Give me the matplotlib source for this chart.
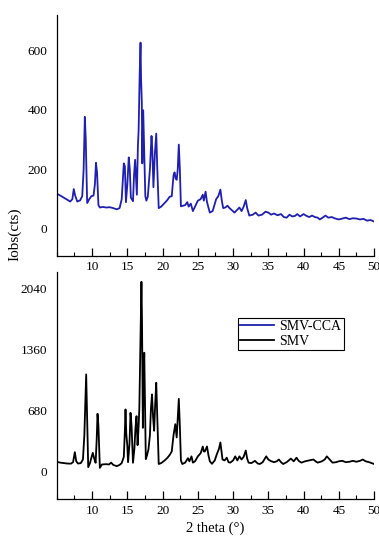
import matplotlib
matplotlib.use('Agg')
import matplotlib.pyplot as plt
from matplotlib.ticker import MultipleLocator

plt.rcParams['font.family'] = ['Liberation Serif', 'DejaVu Serif']

# SMV-CCA pattern (top panel)
cca_theta = [5.0, 5.5, 6.0, 6.5, 6.9, 7.2, 7.4, 7.6, 7.9, 8.3, 8.6, 8.8, 8.97, 9.1, 9.3,
             9.6, 9.9, 10.2, 10.4, 10.55, 10.7, 10.9, 11.1, 11.5, 12.0, 12.5, 13.0, 13.5,
             13.9, 14.2, 14.5, 14.65, 14.8, 15.0, 15.2, 15.35, 15.5, 15.8, 15.95, 16.1,
             16.25, 16.35, 16.5, 16.6, 16.75, 16.87, 16.95, 17.05, 17.12, 17.25, 17.35,
             17.55, 17.7, 17.9, 18.2, 18.43, 18.55, 18.7, 18.9, 19.1, 19.25, 19.45, 19.8,
             20.2, 20.6, 21.0, 21.3, 21.55, 21.7, 21.85, 22.0, 22.15, 22.3, 22.45, 22.6,
             22.9, 23.2, 23.5, 23.7, 24.0, 24.3, 24.6, 25.0, 25.4, 25.7, 25.85, 26.1, 26.3,
             26.7, 27.1, 27.6, 27.9, 28.2, 28.4, 28.6, 28.9, 29.2, 29.5, 30.2, 30.6, 30.9,
             31.2, 31.5, 31.8, 32.0, 32.3, 32.8, 33.2, 33.6, 34.1, 34.6, 35.0, 35.4, 35.8,
             36.3, 36.8, 37.2, 37.6, 38.0, 38.4, 38.8, 39.1, 39.5, 40.0, 40.4, 40.8, 41.2,
             41.6, 42.0, 42.3, 42.7, 43.1, 43.5, 44.0, 44.5, 45.0, 45.5, 46.0, 46.5, 47.0,
             47.5, 48.0, 48.5, 49.0, 49.5, 50.0]
cca_counts = [118, 112, 105, 98, 92, 100, 134, 112, 92, 96, 110, 200, 376, 300, 87,
              100, 110, 112, 150, 222, 190, 80, 72, 74, 72, 73, 70, 66,
              70, 100, 220, 210, 90, 150, 240, 200, 105, 93, 180, 232,
              160, 115, 280, 330, 520, 625, 500, 427, 220, 398, 300,
              110, 95, 108, 200, 312, 260, 140, 250, 320, 200, 70, 75,
              85, 95, 108, 110, 180, 190, 170, 165, 200, 283, 200, 76,
              78, 80, 90, 75, 85, 60, 75, 95, 100, 115, 95, 125, 90,
              55, 60, 100, 110, 132, 95, 70, 72, 78, 70, 55, 65, 72,
              60, 75, 97, 70, 45, 48, 55, 45, 48, 58, 55, 48, 52,
              46, 50, 40, 38, 48, 42, 44, 50, 42, 50, 44, 40, 45,
              40, 38, 32, 38, 45, 38, 40, 35, 32, 35, 38, 33, 36,
              35, 32, 34, 28, 30, 25]

# SMV pattern (bottom panel)
smv_theta = [5.0, 5.5, 6.0, 6.5, 7.0, 7.3, 7.55, 7.75, 8.0, 8.4, 8.7, 8.9, 9.05, 9.16,
             9.3, 9.45, 9.7, 9.9, 10.1, 10.3, 10.5, 10.65, 10.77, 10.9, 11.1, 11.4, 12.0,
             12.4, 12.7, 13.0, 13.5, 13.9, 14.2, 14.5, 14.65, 14.74, 14.85, 15.0, 15.1,
             15.3, 15.45, 15.6, 15.8, 16.0, 16.15, 16.3, 16.45, 16.6, 16.7, 16.85, 17.0,
             17.08, 17.15, 17.2, 17.3, 17.4, 17.5, 17.62, 17.8, 18.0, 18.2, 18.35, 18.5,
             18.65, 18.8, 18.95, 19.1, 19.25, 19.45, 19.8, 20.3, 20.7, 21.0, 21.3, 21.55,
             21.8, 21.9, 22.0, 22.15, 22.3, 22.45, 22.6, 22.8, 23.2, 23.6, 23.8, 24.1,
             24.3, 24.6, 25.0, 25.4, 25.7, 25.85, 26.0, 26.3, 26.5, 26.7, 27.0, 27.4,
             27.7, 28.0, 28.2, 28.35, 28.5, 28.8, 29.1, 29.35, 29.6, 30.0, 30.3, 30.6,
             30.9, 31.2, 31.5, 31.8, 32.0, 32.2, 32.6, 33.1, 33.5, 33.8, 34.2, 34.7, 35.0,
             35.3, 35.8, 36.2, 36.5, 36.8, 37.1, 37.6, 38.2, 38.6, 39.0, 39.3, 39.7, 40.2,
             40.8, 41.4, 41.7, 42.0, 42.6, 43.0, 43.3, 43.7, 44.1, 44.6, 45.0, 45.5, 46.0,
             46.5, 47.0, 47.5, 48.0, 48.4, 48.8, 49.3, 50.0]
smv_counts = [104, 95, 90, 85, 84, 100, 212, 110, 85, 90, 130, 400, 800, 1078,
              600, 45, 90, 150, 204, 140, 93, 350, 640, 500, 37, 75, 78,
              75, 95, 70, 56, 70, 90, 160, 450, 688, 420, 280, 100,
              300, 650, 500, 94, 250, 480, 613, 290, 500, 700, 1400, 2110,
              1672, 900, 483, 1000, 1319, 800, 134, 180, 245, 400, 700, 855,
              600, 450, 750, 985, 600, 80, 90, 120, 150, 180, 220, 400,
              524, 450, 375, 600, 806, 500, 120, 80, 95, 145, 110, 165,
              95, 110, 165, 200, 275, 220, 220, 275, 180, 110, 82, 120,
              190, 250, 320, 220, 130, 120, 150, 100, 95, 120, 165, 120,
              165, 130, 160, 230, 140, 95, 90, 115, 85, 80, 100, 165, 130,
              115, 100, 110, 130, 100, 80, 100, 140, 110, 150, 115, 95, 110,
              120, 130, 110, 95, 110, 130, 165, 130, 95, 100, 110, 115, 100,
              105, 115, 105, 115, 130, 110, 100, 80]

fig = plt.figure(figsize=(3.79, 5.42), dpi=100)
ax1 = fig.add_axes([0.150, 0.528, 0.837, 0.444])
ax2 = fig.add_axes([0.150, 0.079, 0.837, 0.419])

l1, = ax1.plot(cca_theta, cca_counts, color='#1f1fb0', lw=1.3)
l2, = ax2.plot(smv_theta, smv_counts, color='black', lw=1.3)

ax1.set_ylim(-90, 717)
ax1.set_yticks([0, 200, 400, 600])
ax2.set_ylim(-312, 2218)
ax2.set_yticks([0, 680, 1360, 2040])

for ax in (ax1, ax2):
    ax.set_xlim(5, 50)
    ax.xaxis.set_major_locator(MultipleLocator(5))
    ax.xaxis.set_minor_locator(MultipleLocator(2.5))
    ax.set_xticks([10, 15, 20, 25, 30, 35, 40, 45, 50])
    ax.spines['top'].set_visible(False)
    ax.spines['right'].set_visible(False)
    ax.spines['left'].set_linewidth(0.9)
    ax.spines['bottom'].set_linewidth(0.9)
    ax.tick_params(axis='x', which='major', direction='in', length=6, width=0.9,
                   labelsize=9.5, pad=4)
    ax.tick_params(axis='x', which='minor', direction='in', length=3, width=0.8)
    ax.tick_params(axis='y', length=0, labelsize=9.5, pad=7)

ax2.legend(handles=[l1, l2], labels=['SMV-CCA', 'SMV'], loc='upper left',
           bbox_to_anchor=(0.57, 0.80), fontsize=10, frameon=True, fancybox=False,
           edgecolor='black', framealpha=1, handlelength=2.4, borderpad=0.2,
           labelspacing=0.1, handletextpad=0.4, borderaxespad=0)
ax2.get_legend().get_frame().set_linewidth(0.8)

fig.text(0.04, 0.568, 'Iobs(cts)', rotation=90, ha='center', va='center', fontsize=11)
fig.text(0.567, 0.012, '2 theta (°)', ha='center', va='bottom', fontsize=10.5)

plt.savefig('out.png', dpi=100)
